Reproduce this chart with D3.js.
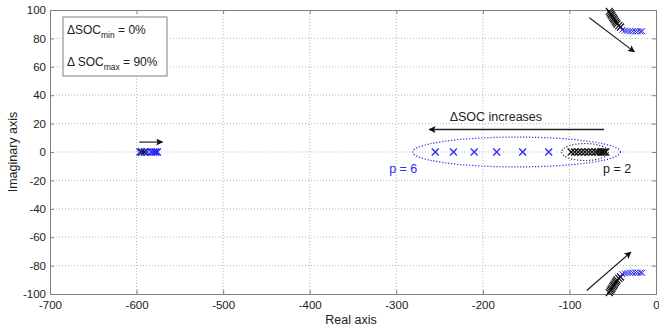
<!DOCTYPE html>
<html>
<head>
<meta charset="utf-8">
<script src="https://cdn.jsdelivr.net/npm/d3@7"></script>
<style>
  body { margin: 0; background: #fff; }
  svg text { font-family: "Liberation Sans", Arial, sans-serif; }
</style>
</head>
<body>
<svg id="chart" width="659" height="333"></svg>
<script>
// ---- data ----
const xTicks = [-700, -600, -500, -400, -300, -200, -100, 0];
const yTicks = [100, 80, 60, 40, 20, 0, -20, -40, -60, -80, -100];

// real poles on the axis
const blueAxisReal = [-255, -234, -210, -184, -154, -124];
const blackAxisReal = [-98, -94, -90, -86, -82, -78, -74, -70, -67, -64, -62, -60, -58];
const leftBlackReal = [-594, -591];
const leftBlueReal = [-596, -588, -583, -580, -578, -576];

// complex poles (upper half), mirrored below
const blackUpper = [[-54, 99], [-53, 98], [-52, 97], [-51, 96], [-50, 95], [-49, 94],
  [-48, 93], [-47, 92], [-46, 91], [-45, 90], [-43, 89], [-41, 88]];
const blueUpper = [[-39, 86], [-36, 85.5], [-33, 85.2], [-30, 85], [-27, 85],
  [-24, 85], [-21, 85], [-18, 85], [-16, 85]];

const margin = { left: 50, top: 10, right: 3, bottom: 39 };
const W = 659, H = 333;
const svg = d3.select('#chart');

const x = d3.scaleLinear().domain([-700, 0]).range([margin.left, W - margin.right]);
const y = d3.scaleLinear().domain([-100, 100]).range([H - margin.bottom, margin.top]);

const blue = '#2a2af0';
const frame = '#808080';
const plain = d => String(d); // hyphen minus, like the original

// grid
const grid = svg.append('g');
grid.selectAll('line.gx').data(xTicks.slice(1, -1)).enter().append('line')
  .attr('x1', d => x(d)).attr('x2', d => x(d))
  .attr('y1', y(100)).attr('y2', y(-100))
  .attr('stroke', '#b8b8b8').attr('stroke-dasharray', '1,2');
grid.selectAll('line.gy').data(yTicks.slice(1, -1)).enter().append('line')
  .attr('y1', d => y(d)).attr('y2', d => y(d))
  .attr('x1', x(-700)).attr('x2', x(0))
  .attr('stroke', '#b8b8b8').attr('stroke-dasharray', '1,2');

// axes (MATLAB style: ticks inward)
const axB = d3.axisBottom(x).tickValues(xTicks).tickSize(-4).tickPadding(7).tickFormat(plain);
const axL = d3.axisLeft(y).tickValues(yTicks).tickSize(-4).tickPadding(4).tickFormat(plain);
const axT = d3.axisTop(x).tickValues(xTicks).tickSize(-4).tickFormat('');
const axR = d3.axisRight(y).tickValues(yTicks).tickSize(-4).tickFormat('');

function style(g) {
  g.selectAll('path, line').attr('stroke', frame);
  g.selectAll('text').attr('fill', '#222').style('font-size', '11.5px')
    .style('font-family', '"Liberation Sans", Arial, sans-serif');
}
svg.append('g').attr('transform', `translate(0,${y(-100)})`).call(axB).call(style);
svg.append('g').attr('transform', `translate(${x(-700)},0)`).call(axL).call(style);
svg.append('g').attr('transform', `translate(0,${y(100)})`).call(axT).call(style);
svg.append('g').attr('transform', `translate(${x(0)},0)`).call(axR).call(style);

// axis titles
svg.append('text').attr('x', 351).attr('y', 324).attr('text-anchor', 'middle')
  .style('font-size', '12.5px').attr('fill', '#222').text('Real axis');
svg.append('text').attr('transform', `translate(17,${y(0)}) rotate(-90)`)
  .attr('text-anchor', 'middle').style('font-size', '12.5px').attr('fill', '#222')
  .text('Imaginary axis');

// ellipses
function ellipse(cx, rx, ry, color) {
  svg.append('ellipse')
    .attr('cx', x(cx)).attr('cy', y(0))
    .attr('rx', x(rx) - x(0)).attr('ry', y(0) - y(ry))
    .attr('fill', 'none').attr('stroke', color)
    .attr('stroke-width', 1.2).attr('stroke-dasharray', '1.2,1.8');
}
ellipse(-161, 120, 10.5, blue);
ellipse(-82, 27, 6, '#333');

// markers
const plot = svg.append('g');
function crosses(pts, color, s, w) {
  plot.selectAll(null).data(pts).enter().append('path')
    .attr('d', d => {
      const px = x(d[0]), py = y(d[1]);
      return `M${px - s},${py - s}L${px + s},${py + s}M${px - s},${py + s}L${px + s},${py - s}`;
    })
    .attr('stroke', color).attr('stroke-width', w).attr('fill', 'none');
}
const lower = a => a.map(d => [d[0], -d[1]]);
crosses(blackAxisReal.map(v => [v, 0]), '#111', 3.5, 1.2);
crosses(blueAxisReal.map(v => [v, 0]), blue, 3.5, 1.3);
crosses(leftBlackReal.map(v => [v, 0]), '#111', 3.5, 1.3);
crosses(leftBlueReal.map(v => [v, 0]), blue, 3.5, 1.5);
crosses(blackUpper, '#111', 3.5, 1.2);
crosses(lower(blackUpper), '#111', 3.5, 1.2);
crosses(blueUpper, blue, 3, 1);
crosses(lower(blueUpper), blue, 3, 1);

// arrows
svg.append('defs').append('marker')
  .attr('id', 'head').attr('viewBox', '0 0 10 10').attr('refX', 9).attr('refY', 5)
  .attr('markerWidth', 9).attr('markerHeight', 7).attr('orient', 'auto')
  .attr('markerUnits', 'userSpaceOnUse')
  .append('path').attr('d', 'M0,0L10,5L0,10L2,5Z').attr('fill', '#111');
function arrow(x1, y1, x2, y2, w) {
  svg.append('line')
    .attr('x1', x(x1)).attr('y1', y(y1)).attr('x2', x(x2)).attr('y2', y(y2))
    .attr('stroke', '#222').attr('stroke-width', w).attr('marker-end', 'url(#head)');
}
arrow(-60, 15.8, -262, 15.8, 1.4);
arrow(-597, 7, -570, 7, 1.2);
arrow(-77, 94.5, -25, 70.5, 1.2);
arrow(-80, -97.5, -29, -70.5, 1.2);

// annotation texts
svg.append('text').attr('x', x(-185)).attr('y', y(21.5)).attr('text-anchor', 'middle')
  .style('font-size', '12.5px').attr('fill', '#222').text('\u0394SOC increases');
svg.append('text').attr('x', x(-292)).attr('y', y(-14.5)).attr('text-anchor', 'middle')
  .style('font-size', '12.5px').attr('fill', blue).text('p = 6');
svg.append('text').attr('x', x(-45)).attr('y', y(-14.5)).attr('text-anchor', 'middle')
  .style('font-size', '12.5px').attr('fill', '#222').text('p = 2');

// legend box
const lg = svg.append('g');
lg.append('rect').attr('x', 63).attr('y', 17).attr('width', 104).attr('height', 59)
  .attr('fill', '#fff').attr('stroke', frame);
const t1 = lg.append('text').attr('x', 67).attr('y', 34).style('font-size', '12px').attr('fill', '#222');
t1.append('tspan').text('\u0394SOC');
t1.append('tspan').attr('dy', 4).style('font-size', '8.5px').text('min');
t1.append('tspan').attr('dy', -4).text(' = 0%');
const t2 = lg.append('text').attr('x', 67).attr('y', 66).style('font-size', '12px').attr('fill', '#222');
t2.append('tspan').text('\u0394 SOC');
t2.append('tspan').attr('dy', 4).style('font-size', '8.5px').text('max');
t2.append('tspan').attr('dy', -4).text(' = 90%');
</script>
</body>
</html>
